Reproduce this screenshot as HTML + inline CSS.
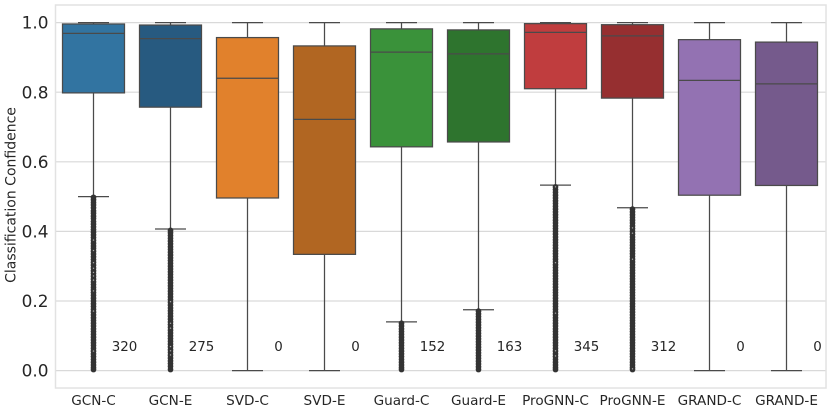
<!DOCTYPE html>
<html>
<head>
<meta charset="utf-8">
<style>
html,body{margin:0;padding:0;background:#fff;width:830px;height:413px;overflow:hidden}
svg{display:block}
text{font-family:"DejaVu Sans","Liberation Sans",sans-serif;fill:#262626}
</style>
</head>
<body>
<svg id="chart" width="830" height="413" viewBox="0 0 830 413" xmlns="http://www.w3.org/2000/svg">
<text transform="translate(15.5,195) rotate(-90)" text-anchor="middle" font-size="14">Classification Confidence</text>
</svg>
<script>
const categories = ["GCN-C","GCN-E","SVD-C","SVD-E","Guard-C","Guard-E","ProGNN-C","ProGNN-E","GRAND-C","GRAND-E"];
const q1Values = [0.798,0.757,0.496,0.334,0.643,0.657,0.810,0.783,0.504,0.532];
const medianValues = [0.969,0.954,0.840,0.722,0.915,0.910,0.972,0.962,0.834,0.824];
const q3Values = [0.996,0.993,0.957,0.933,0.982,0.979,0.997,0.994,0.951,0.944];
const whiskerLow = [0.500,0.407,0,0,0.140,0.175,0.533,0.468,0,0];
const whiskerHigh = [1,1,1,1,1,1,1,1,1,1];
const outlierCounts = [320,275,0,0,152,163,345,312,0,0];
const yTicks = [0,0.2,0.4,0.6,0.8,1.0];

const gcnCFliers = [0.498,0.491,0.483,0.476,0.468,0.459,0.452,0.444,0.437,0.428,0.421,0.413,0.405,0.398,0.39,0.382,0.374,0.366,0.358,0.351,0.343,0.335,0.327,0.319,0.311,0.303,0.295,0.287,0.279,0.271,0.263,0.255,0.247,0.239,0.232,0.224,0.216,0.208,0.2,0.192,0.184,0.176,0.168,0.16,0.152,0.144,0.136,0.128,0.12,0.112,0.104,0.096,0.088,0.08,0.072,0.064,0.056,0.048,0.04,0.032,0.024,0.016,0.009,0.003];
const gcnEFliers = [0.403,0.396,0.388,0.38,0.372,0.364,0.356,0.348,0.34,0.332,0.324,0.316,0.308,0.3,0.292,0.284,0.276,0.268,0.26,0.252,0.244,0.236,0.228,0.22,0.212,0.204,0.196,0.188,0.18,0.172,0.164,0.156,0.148,0.14,0.132,0.124,0.116,0.108,0.1,0.092,0.084,0.076,0.068,0.06,0.052,0.044,0.036,0.028,0.02,0.012,0.003];
const guardCFliers = [0.136,0.128,0.12,0.112,0.104,0.096,0.088,0.08,0.072,0.064,0.056,0.048,0.04,0.032,0.024,0.016,0.009,0.003];
const guardEFliers = [0.171,0.163,0.155,0.147,0.139,0.131,0.123,0.115,0.107,0.099,0.091,0.083,0.075,0.067,0.059,0.051,0.043,0.035,0.027,0.019,0.011,0.003];
const proCFliers = [0.528,0.52,0.512,0.504,0.496,0.488,0.48,0.472,0.464,0.456,0.448,0.44,0.432,0.424,0.416,0.408,0.4,0.392,0.384,0.376,0.368,0.36,0.352,0.344,0.336,0.328,0.32,0.312,0.304,0.296,0.288,0.28,0.272,0.264,0.256,0.248,0.24,0.232,0.224,0.216,0.208,0.2,0.192,0.184,0.176,0.168,0.16,0.152,0.144,0.136,0.128,0.12,0.112,0.104,0.096,0.088,0.08,0.072,0.064,0.056,0.048,0.04,0.032,0.024,0.016,0.009,0.003];
const proEFliers = [0.464,0.456,0.448,0.44,0.432,0.424,0.416,0.408,0.4,0.392,0.384,0.376,0.368,0.36,0.352,0.344,0.336,0.328,0.32,0.312,0.304,0.296,0.288,0.28,0.272,0.264,0.256,0.248,0.24,0.232,0.224,0.216,0.208,0.2,0.192,0.184,0.176,0.168,0.16,0.152,0.144,0.136,0.128,0.12,0.112,0.104,0.096,0.088,0.08,0.072,0.064,0.056,0.048,0.04,0.032,0.024,0.016,0.009,0.003];
const emptyFliers = [];

const gcnCHollow = [0.375,0.345,0.31,0.294,0.282,0.272,0.26,0.229,0.171,0.056];
const gcnEHollow = [0.198,0.136,0.122,0.069,0.057,0.045];
const proCHollow = [0.528,0.31,0.165,0.057,0.042];
const proEHollow = [0.41,0.395,0.32,0.005];

const fliersBySeries = [gcnCFliers,gcnEFliers,emptyFliers,emptyFliers,guardCFliers,guardEFliers,proCFliers,proEFliers,emptyFliers,emptyFliers];
const hollowBySeries = [gcnCHollow,gcnEHollow,emptyFliers,emptyFliers,emptyFliers,emptyFliers,proCHollow,proEHollow,emptyFliers,emptyFliers];
const boxColors = ["#3274a1","#275a80","#e1812c","#b16622","#3a923a","#2e742e","#c03d3e","#962f30","#9372b2","#755a8c"];

const NS = "http://www.w3.org/2000/svg";
const svg = document.getElementById("chart");
const plot = {left:55.5,right:826,top:5,bottom:388};
function xScale(i){return 93.5+77*i;}
function yScale(v){return 370.6-348*v;}
function make(tag,attrs,parent){
  const el=document.createElementNS(NS,tag);
  for(const k in attrs){el.setAttribute(k,attrs[k]);}
  (parent||svg).appendChild(el);
  return el;
}
const EDGE="#4a4a4a";
const LINE_W=1.25;
const BOX_W=62,CAP_W=31;

yTicks.forEach(function(t){
  const grid=make("line",{x1:plot.left,x2:plot.right,y1:yScale(t),y2:yScale(t),stroke:"#d9d9d9","stroke-width":1.2});
  
  
  const label=make("text",{x:48.5,y:yScale(t)+6.1,"text-anchor":"end","font-size":16.9});
  label.textContent=t.toFixed(1);
  
  
});

const frame=make("rect",{x:plot.left,y:plot.top,width:plot.right-plot.left,height:plot.bottom-plot.top,fill:"none",stroke:"#e2e2e2","stroke-width":1.5});



categories.forEach(function(name,i){
  const cx=xScale(i);
  const g=make("g",{});
  
  

  const upper=make("line",{x1:cx,x2:cx,y1:yScale(whiskerHigh[i]),y2:yScale(q3Values[i]),stroke:EDGE,"stroke-width":LINE_W},g);
  
  
  const lower=make("line",{x1:cx,x2:cx,y1:yScale(q1Values[i]),y2:yScale(whiskerLow[i]),stroke:EDGE,"stroke-width":LINE_W},g);
  
  
  const capHi=make("line",{x1:cx-CAP_W/2,x2:cx+CAP_W/2,y1:yScale(whiskerHigh[i]),y2:yScale(whiskerHigh[i]),stroke:EDGE,"stroke-width":LINE_W},g);
  
  
  const capLo=make("line",{x1:cx-CAP_W/2,x2:cx+CAP_W/2,y1:yScale(whiskerLow[i]),y2:yScale(whiskerLow[i]),stroke:EDGE,"stroke-width":LINE_W},g);
  
  

  const box=make("rect",{x:cx-BOX_W/2,y:yScale(q3Values[i]),width:BOX_W,height:yScale(q1Values[i])-yScale(q3Values[i]),fill:boxColors[i],stroke:EDGE,"stroke-width":LINE_W},g);
  
  
  const med=make("line",{x1:cx-BOX_W/2,x2:cx+BOX_W/2,y1:yScale(medianValues[i]),y2:yScale(medianValues[i]),stroke:EDGE,"stroke-width":LINE_W},g);
  
  

  fliersBySeries[i].forEach(function(v){
    const c=make("circle",{cx:cx,cy:yScale(v),r:2.85,fill:"#333"},g);
    
    
  });
  hollowBySeries[i].forEach(function(v){
    const c=make("circle",{cx:cx,cy:yScale(v),r:0.7,fill:"#a8a8a8"},g);
    
    
  });

  const count=make("text",{x:cx+31,y:350.8,"text-anchor":"middle","font-size":13.4});
  count.textContent=String(outlierCounts[i]);
  
  

  const tick=make("text",{x:cx,y:405,"text-anchor":"middle","font-size":13.6});
  tick.textContent=name;
  
  
});
</script>
</body>
</html>
